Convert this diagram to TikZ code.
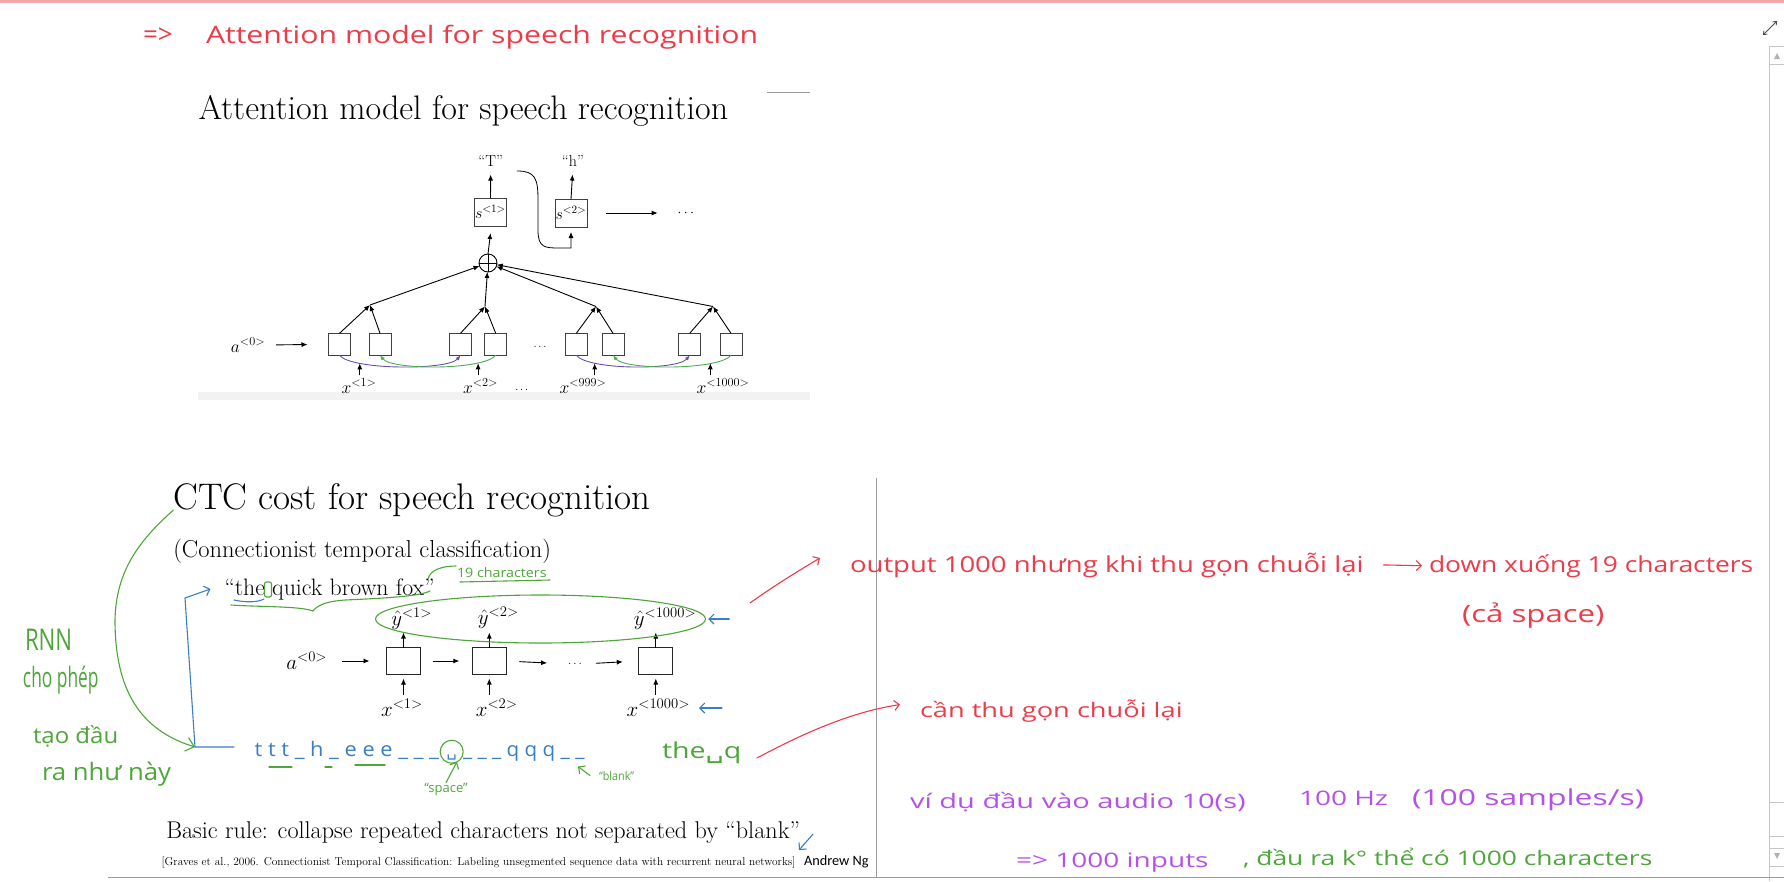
\RequirePackage{fix-cm}
\documentclass[tikz,border=0pt]{standalone}
\usepackage{fontspec}
\usepackage{amsmath}
\usetikzlibrary{arrows.meta,positioning,calc}
\newfontfamily\handfont{Open Sans}
\newfontfamily\symfont{DejaVu Sans}
\newfontfamily\ngfont{Carlito}
\definecolor{PenRed}{HTML}{EE3B4A}
\definecolor{PenGreen}{HTML}{4EA63A}
\definecolor{PenBlue}{HTML}{3A7EC4}
\definecolor{PenPurple}{HTML}{B650EA}
\definecolor{TabPink}{HTML}{F4A6A8}
\definecolor{SlideViolet}{HTML}{6B4DB2}
\definecolor{SlideGreen}{HTML}{4DAE4F}
\definecolor{FrameGrey}{HTML}{9A9A9A}
\newcommand{\fs}[1]{\fontsize{#1}{#1}\selectfont}
\newcommand{\pen}[3]{{\handfont\fs{#1}\scalebox{#2}[1]{#3}}}
\tikzset{
    every node/.style={inner sep=0pt, outer sep=0pt},
    encbox/.style={draw=black!75, line width=0.9pt, minimum width=22pt, minimum height=22pt},
    rnnbox/.style={draw=black!85, line width=1pt, minimum width=34pt, minimum height=27pt},
    sbox/.style={draw=black!75, line width=0.9pt, minimum width=32pt, minimum height=28pt, font=\fs{16}},
    slidearrow/.style={-{Latex[length=6pt,width=5pt]}, line width=0.9pt},
    toplabel/.style={font=\fs{17.5}},
    ctclabel/.style={font=\fs{21}},
    penline/.style={line width=1.1pt, line cap=round, line join=round},
    penarrow/.style={penline, -{Straight Barb[length=5pt,width=10pt]}},
}
\begin{document}
\begin{tikzpicture}[x=1pt, y=-1pt]
    \useasboundingbox (0,0) rectangle (1784,881);
    \fill[white] (0,0) rectangle (1784,881);

    % window chrome
    \fill[TabPink] (0,0) rectangle (1784,3);
    \draw[black!70, line width=0.9pt, {Straight Barb[length=3pt,width=5pt]}-{Straight Barb[length=3pt,width=5pt]}] (1763,35) -- (1777,21);
    \draw[gray!45, line width=0.8pt] (1769.5,46) -- (1769.5,881);
    \draw[gray!45, line width=0.8pt] (1769.5,46) rectangle (1784,64);
    \fill[gray!60] (1774,59) -- (1780,59) -- (1777,53) -- cycle;
    \draw[gray!45, line width=0.8pt] (1769.5,802) rectangle (1784,836);
    \draw[gray!45, line width=0.8pt] (1769.5,848) rectangle (1784,866);
    \fill[gray!60] (1774,853) -- (1780,853) -- (1777,859) -- cycle;
    \draw[FrameGrey, line width=1pt] (108,877.5) -- (1784,877.5);
    \draw[FrameGrey, line width=0.8pt] (876.5,478) -- (876.5,877);

    % heading note
    \node[anchor=base west, text=PenRed] (arrhead) at (143,43) {\pen{26}{1}{=>}};
    \node[anchor=base west, text=PenRed] (notetitle) at (206,43) {\pen{24}{1.26}{Attention model for speech recognition}};

    % slide 1: attention model
    \node[anchor=base west, font=\fs{34}] (atttitle) at (198.5,119.5) {Attention model for speech recognition};
    \draw[FrameGrey, line width=0.8pt] (767,92) -- (810,92);
    \fill[gray!10] (198,392) rectangle (810,400);

    \node[sbox] (s1) at (490.5,212) {$s^{<1>}$};
    \node[sbox] (s2) at (571,213) {$s^{<2>}$};
    \node[font=\fs{16}] (outT) at (490.7,161) {“T”};
    \node[font=\fs{16}] (outh) at (573,161) {“h”};
    \node[font=\fs{14}] (sdots) at (687,213) {$\cdots$};
    \node[circle, draw, line width=0.9pt, minimum size=18pt] (plus) at (488,263) {};
    \draw[line width=0.9pt] (plus.north) -- (plus.south) (plus.west) -- (plus.east);

    \draw[slidearrow, shorten >=8pt] (s1.north) -- (outT.south);
    \draw[slidearrow, shorten >=8pt] (s2.north) -- (outh.south);
    \draw[slidearrow, shorten <=19pt, shorten >=20pt] (s2.east) -- (sdots.west);
    \draw[slidearrow] (plus.north) -- ([yshift=-7pt]s1.south);
    \draw[line width=0.8pt, -{Latex[length=6pt,width=5pt]}] ([shift={(14pt,-10pt)}]outT.east) .. controls +(18,0) and +(0,-22) .. (538,200) -- (538,230) .. controls +(0,18) and +(-15,0) .. (560,248) -| ([yshift=-5pt]s2.south);

    \foreach \n/\xx in {1/339.5, 2/380, 3/460.5, 4/495.7, 5/576.3, 6/613, 7/689.7, 8/731}
        \node[encbox] (e\n) at (\xx,344.3) {};
    \coordinate (m1) at (370,305);
    \coordinate (m2) at (485,306.5);
    \coordinate (m3) at (596,306.5);
    \coordinate (m4) at (713,306.5);
    \foreach \a/\b/\m in {1/2/1, 3/4/2, 5/6/3, 7/8/4} {
        \draw[slidearrow] (e\a.north) -- (m\m);
        \draw[slidearrow] (e\b.north) -- (m\m);
        \draw[slidearrow] (m\m) -- (plus);
    }
    \foreach \a/\b in {1/3, 5/7}
        \draw[SlideViolet, line width=0.9pt, -{Latex[length=5pt,width=4pt]}] (e\a.south) .. controls +(12,15) and +(-12,15) .. (e\b.south);
    \foreach \a/\b in {4/2, 8/6}
        \draw[SlideGreen, line width=0.9pt, -{Latex[length=5pt,width=4pt]}] (e\a.south) .. controls +(-12,15) and +(12,15) .. (e\b.south);

    \node[toplabel] (a0top) at (248,345) {$a^{<0>}$};
    \draw[slidearrow, shorten <=11pt, shorten >=21pt] (a0top.east) -- (e1.west);
    \node[font=\fs{11}] (edots) at (540,347) {$\ldots$};

    \node[toplabel] (x1) at (359,386) {$x^{<1>}$};
    \node[toplabel] (x2) at (480.6,386) {$x^{<2>}$};
    \node[toplabel] (x999) at (583,386) {$x^{<999>}$};
    \node[toplabel] (x1000) at (723,386) {$x^{<1000>}$};
    \node[font=\fs{11}] (xdots) at (521.7,390) {$\ldots$};
    \foreach \a/\b/\k in {1/2/1, 3/4/2, 5/6/3, 7/8/4} {
        \coordinate (f\k) at ($(e\a.south)!0.5!(e\b.south)+(0,20)$);
        \draw[slidearrow] (f\k) -- ++(0,-12);
    }

    % slide 2: CTC cost
    \node[anchor=base west, font=\fs{37}] (ctctitle) at (173.3,509.3) {CTC cost for speech recognition};
    \node[anchor=base west, font=\fs{24.5}] (ctcsub) at (173.3,557.3) {(Connectionist temporal classification)};
    \node[anchor=base west, font=\fs{23.8}] (quote) at (224.5,595) {“the quick brown fox”};
    \node[anchor=base west, font=\fs{24.2}] (rule) at (166.3,838.3) {Basic rule: collapse repeated characters not separated by “blank”};
    \node[anchor=base west, font=\fs{11.4}] (cite) at (161.6,865) {[Graves et al., 2006. Connectionist Temporal Classification: Labeling unsegmented sequence data with recurrent neural networks]};
    \node[anchor=base west, font=\ngfont\fs{14.3}] (andrewng) at (804,865) {Andrew Ng};

    \node[rnnbox] (c1) at (403.5,661) {};
    \node[rnnbox] (c2) at (489.3,661) {};
    \node[rnnbox] (c3) at (655.8,661) {};
    \node[font=\fs{12}] (cdots) at (575,664) {$\ldots$};
    \node[ctclabel] (a0ctc) at (306.7,661) {$a^{<0>}$};
    \draw[slidearrow, shorten <=15pt, shorten >=17pt] (a0ctc.east) -- (c1.west);
    \draw[slidearrow, shorten <=12pt, shorten >=13pt] (c1.east) -- (c2.west);
    \draw[slidearrow, shorten <=13pt, shorten >=21pt] (c2.east) -- (cdots.west);
    \draw[slidearrow, shorten <=14pt, shorten >=16pt] (cdots.east) -- (c3.west);

    \node[ctclabel] (yh1) at (411.7,619) {$\hat{y}^{<1>}$};
    \node[ctclabel] (yh2) at (498.3,618) {$\hat{y}^{<2>}$};
    \node[ctclabel] (yh3) at (665,619) {$\hat{y}^{<1000>}$};
    \node[ctclabel] (xc1) at (402,708) {$x^{<1>}$};
    \node[ctclabel] (xc2) at (496.7,708) {$x^{<2>}$};
    \node[ctclabel] (xc3) at (658.3,708) {$x^{<1000>}$};
    \foreach \c in {c1, c2, c3} {
        \draw[slidearrow] (\c.north) -- ([yshift=15pt]\c.north);
        \draw[slidearrow] ([yshift=-20pt]\c.south) -- ([yshift=-4pt]\c.south);
    }

    % pen notes on slide 2
    \draw[PenGreen, penline] (540.5,619) ellipse [x radius=165pt, y radius=24pt];
    \draw[PenBlue, penarrow] ([xshift=33pt]yh3.east) -- ([xshift=12pt]yh3.east);
    \draw[PenBlue, penarrow] ([xshift=32pt]xc3.east) -- ([xshift=9pt]xc3.east);
    \draw[PenBlue, penline] (234,600) .. controls (248,603) and (258,602) .. (264,599);
    \draw[PenGreen, penline, rounded corners=2pt] (264.5,582) rectangle (271.5,597);
    \draw[PenGreen, penline] (231,605) .. controls (260,607) and (300,606) .. (313,611) .. controls (318,604) and (330,601) .. (345,600) .. controls (390,598) and (420,596) .. (430,591);
    \draw[PenGreen, penline] (428,579) .. controls (430,570) and (442,566) .. (456,566);
    \node[anchor=base west, text=PenGreen] (nineteen) at (457,577) {\pen{13}{1.1}{19 characters}};
    \draw[PenGreen, penline] (460,582) -- (550,580);

    \coordinate (bcorner) at (195,747);
    \coordinate (bend) at (234,747);
    \draw[PenGreen, penline, -{Straight Barb[length=8pt,width=14pt]}] ([yshift=-10pt]ctctitle.west) .. controls (140,540) and (116,570) .. (115,620) .. controls (115,690) and (140,730) .. (bcorner);
    \draw[PenBlue, penarrow] (bend) -- (bcorner) -- (185,598) -- ([xshift=-14pt]quote.west);

    \node[anchor=base west, text=PenBlue] (bseqL) at (254.7,756.7) {\pen{20}{1.09}{t t t \_ h \_ e e e \_ \_ \_}};
    \node[anchor=base, text=PenBlue] (bspace) at (451.7,756.7) {\symfont\fs{16}␣};
    \node[anchor=base west, text=PenBlue] (bseqR) at (463,756.7) {\pen{20}{1.03}{\_ \_ \_ q q q \_ \_}};
    \node[circle, draw=PenGreen, penline, minimum size=23pt] (spcircle) at (451.7,751.7) {};
    \draw[PenGreen, penline] (269,767) -- (292,767);
    \draw[PenGreen, penline] (325,767) -- (332,767);
    \draw[PenGreen, penline] (355,765) -- (385,765);
    \node[anchor=base, text=PenGreen] (spacelbl) at (446,792) {\pen{13}{1}{“space”}};
    \draw[PenGreen, penarrow] (spacelbl.north) -- (spcircle.-63);
    \node[anchor=base west, text=PenGreen] (blanklbl) at (599,780) {\pen{12}{0.9}{“blank”}};
    \draw[PenGreen, penarrow] ([xshift=-9pt]blanklbl.west) -- ([shift={(-21pt,9pt)}]blanklbl.west);
    \node[anchor=base west, text=PenGreen] (collapsed) at (662,758) {\pen{22}{1.3}{the{\symfont ␣}q}};
    \draw[PenBlue, penarrow] ([shift={(9pt,21pt)}]andrewng.north west) -- ([shift={(-5pt,5pt)}]andrewng.north west);

    % pen notes, left margin
    \node[anchor=base west, text=PenGreen] (rnn) at (25,650) {\pen{30}{0.74}{RNN}};
    \node[anchor=base west, text=PenGreen] (chophep) at (23,687) {\pen{28}{0.62}{cho phép}};
    \node[anchor=base west, text=PenGreen] (taodau) at (33,743) {\pen{22}{1.09}{tạo đầu}};
    \node[anchor=base west, text=PenGreen] (ranhunay) at (42,780) {\pen{24}{1.07}{ra như này}};

    % pen notes, right side
    \coordinate (redA) at (750,603);
    \coordinate (redB) at (757,758);
    \node[anchor=base west, text=PenRed] (noteout) at (850,572) {\pen{22}{1.25}{output 1000 nhưng khi thu gọn chuỗi lại}};
    \node[anchor=base west, text=PenRed] (notedown) at (1429,572) {\pen{22}{1.2}{down xuống 19 characters}};
    \node[anchor=base west, text=PenRed] (notespace) at (1462,622) {\pen{24}{1.3}{(cả space)}};
    \node[anchor=base west, text=PenRed] (notecan) at (920,717) {\pen{20}{1.36}{cần thu gọn chuỗi lại}};
    \draw[PenRed, penarrow] (redA) .. controls (775,585) and (800,570) .. ([shift={(-30pt,7pt)}]noteout.west);
    \draw[PenRed, penarrow] ([xshift=20pt]noteout.east) -- ([xshift=-7pt]notedown.west);
    \draw[PenRed, penarrow] (redB) .. controls (800,735) and (850,712) .. ([shift={(-20pt,6pt)}]notecan.west);
    \node[anchor=base west, text=PenPurple] (noteaudio) at (910,808) {\pen{20}{1.45}{ví dụ đầu vào audio 10(s)}};
    \node[anchor=base west, text=PenPurple] (notehz) at (1299,805) {\pen{20}{1.4}{100 Hz}};
    \node[anchor=base west, text=PenPurple] (notesamp) at (1412,805) {\pen{22}{1.45}{(100 samples/s)}};
    \node[anchor=base west, text=PenPurple] (noteinp) at (1016,867) {\pen{20}{1.4}{=> 1000 inputs}};
    \node[anchor=base west, text=PenGreen] (noteout2) at (1243,865) {\pen{20}{1.32}{, đầu ra k° thể có 1000 characters}};
\end{tikzpicture}
\end{document}
